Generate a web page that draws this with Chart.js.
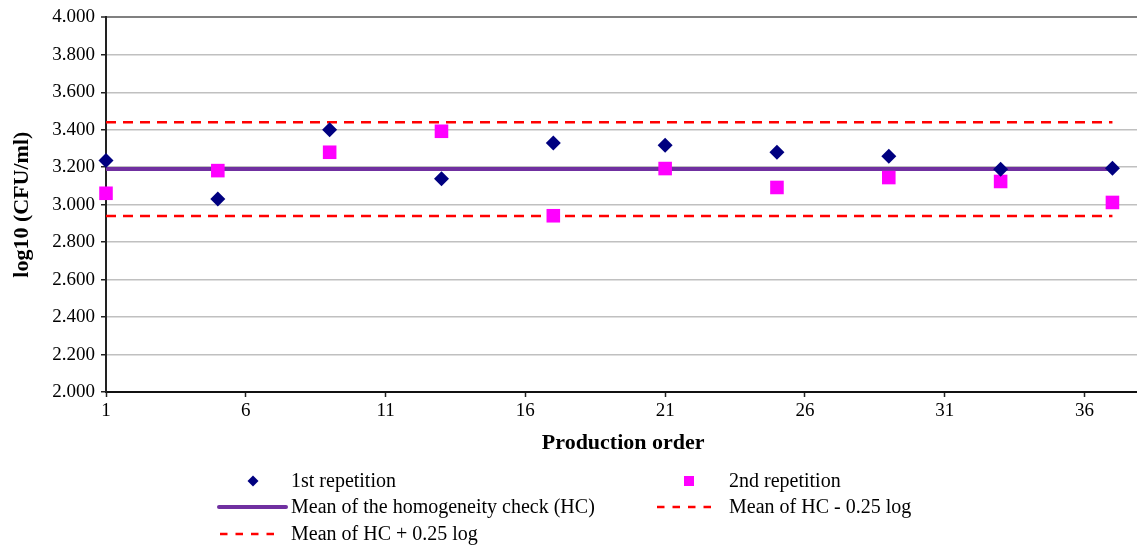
<!DOCTYPE html>
<html lang="en">
<head>
    <meta charset="UTF-8">
    <title>Homogeneity check</title>
    <script src="https://cdn.jsdelivr.net/npm/chart.js"></script>
    <style>
        html, body { margin: 0; padding: 0; background: #fff; overflow: hidden; }
        #wrap { position: relative; width: 1150px; height: 547px; }
    </style>
</head>
<body>
    <div id="wrap"><canvas id="hcChart"></canvas></div>

    <script>
        // production order of the sampled units
        const productionOrder = [1, 5, 9, 13, 17, 21, 25, 29, 33, 37];
        // log10 (CFU/ml)
        const firstRepetition = [3.236, 3.031, 3.400, 3.138, 3.330, 3.317, 3.280, 3.259, 3.189, 3.195];
        const secondRepetition = [3.061, 3.182, 3.280, 3.392, 2.941, 3.193, 3.092, 3.145, 3.124, 3.012];
        // reference lines, drawn from first to last unit
        const lineX = [1, 37];
        const hcMean = [3.19, 3.19];
        const hcMinus = [2.94, 2.94];
        const hcPlus = [3.44, 3.44];
        // axis ticks
        const xTicks = [1, 6, 11, 16, 21, 26, 31, 36];
        const yMin = 2.0, yMax = 4.0, yStep = 0.2;

        const serif = '"Liberation Serif", "Times New Roman", serif';
        const pts = (xs, ys) => xs.map((x, i) => ({ x: x, y: ys[i] }));

        const datasets = [
            {
                label: '1st repetition',
                data: pts(productionOrder, firstRepetition),
                showLine: false,
                pointStyle: 'rectRot',
                pointRadius: 7.5,
                pointBackgroundColor: '#000080',
                pointBorderColor: '#000080',
                pointBorderWidth: 0,
                clip: false
            },
            {
                label: '2nd repetition',
                data: pts(productionOrder, secondRepetition),
                showLine: false,
                pointStyle: 'rect',
                pointRadius: 9.6,
                pointBackgroundColor: '#ff00ff',
                pointBorderColor: '#ff00ff',
                pointBorderWidth: 0,
                clip: false
            },
            {
                label: 'Mean of the homogeneity check (HC)',
                data: pts(lineX, hcMean),
                showLine: true,
                borderColor: '#7030a0',
                borderWidth: 4,
                pointRadius: 0
            },
            {
                label: 'Mean of HC - 0.25 log',
                data: pts(lineX, hcMinus),
                showLine: true,
                borderColor: '#ff0000',
                borderWidth: 2.5,
                borderDash: [10, 7],
                pointRadius: 0
            },
            {
                label: 'Mean of HC + 0.25 log',
                data: pts(lineX, hcPlus),
                showLine: true,
                borderColor: '#ff0000',
                borderWidth: 2.5,
                borderDash: [10, 7],
                pointRadius: 0
            }
        ];

        // legend laid out like the original: two columns, three rows
        const legendSpots = [
            { x: 253, tx: 291, y: 481 },
            { x: 689, tx: 729, y: 481 },
            { x1: 219, x2: 286, tx: 291, y: 507 },
            { x1: 657, x2: 717, tx: 729, y: 507 },
            { x1: 220, x2: 282, tx: 291, y: 534 }
        ];

        const legendPlugin = {
            id: 'sideLegend',
            afterDraw(chart) {
                const ctx = chart.ctx;
                ctx.save();
                chart.data.datasets.forEach((ds, i) => {
                    const p = legendSpots[i];
                    if (!p) return;
                    if (ds.showLine) {
                        ctx.beginPath();
                        ctx.strokeStyle = ds.borderColor;
                        ctx.lineWidth = ds.borderWidth;
                        ctx.lineCap = ds.borderDash ? 'butt' : 'round';
                        ctx.setLineDash(ds.borderDash ? [7.5, 8] : []);
                        ctx.moveTo(p.x1, p.y);
                        ctx.lineTo(p.x2, p.y);
                        ctx.stroke();
                        ctx.setLineDash([]);
                    } else {
                        ctx.fillStyle = ds.pointBackgroundColor;
                        ctx.beginPath();
                        if (ds.pointStyle === 'rectRot') {
                            const r = 5.5;
                            ctx.moveTo(p.x, p.y - r);
                            ctx.lineTo(p.x + r, p.y);
                            ctx.lineTo(p.x, p.y + r);
                            ctx.lineTo(p.x - r, p.y);
                            ctx.closePath();
                        } else {
                            ctx.rect(p.x - 5, p.y - 5, 10, 10);
                        }
                        ctx.fill();
                    }
                    ctx.fillStyle = '#000';
                    ctx.font = '20px ' + serif;
                    ctx.textAlign = 'left';
                    ctx.textBaseline = 'middle';
                    ctx.fillText(ds.label, p.tx, p.y + 1);
                });
                ctx.restore();
            }
        };

        new Chart(document.getElementById('hcChart'), {
            type: 'scatter',
            data: { datasets: datasets },
            plugins: [legendPlugin],
            options: {
                responsive: true,
                maintainAspectRatio: false,
                animation: false,
                layout: { padding: { top: 17, left: 0, right: 8, bottom: 85 } },
                plugins: {
                    legend: { display: false },
                    tooltip: { enabled: false }
                },
                scales: {
                    x: {
                        type: 'linear',
                        min: 1,
                        max: 38,
                        afterBuildTicks: (scale) => { scale.ticks = xTicks.map(v => ({ value: v })); },
                        afterFit: (scale) => { scale.height = 70; },
                        grid: {
                            drawOnChartArea: false,
                            drawTicks: true,
                            tickLength: 5,
                            tickColor: '#222',
                            tickWidth: 1.5
                        },
                        border: { color: '#111', width: 2 },
                        ticks: {
                            color: '#000',
                            padding: 3,
                            maxRotation: 0,
                            autoSkip: false,
                            font: { family: serif, size: 19 }
                        },
                        title: {
                            display: true,
                            text: 'Production order',
                            color: '#000',
                            padding: { top: 0, bottom: 5 },
                            font: { family: serif, size: 22, weight: 'bold' }
                        }
                    },
                    y: {
                        min: yMin,
                        max: yMax,
                        afterFit: (scale) => { scale.width = 106; },
                        grid: {
                            color: (c) => (c.tick && c.tick.value >= yMax - 1e-9) ? '#808080' : '#c0c0c0',
                            lineWidth: (c) => (c.tick && c.tick.value >= yMax - 1e-9) ? 2 : 1.5,
                            drawTicks: true,
                            tickLength: 5,
                            tickColor: '#222',
                            tickWidth: 1.5
                        },
                        border: { color: '#222', width: 2 },
                        ticks: {
                            stepSize: yStep,
                            color: '#000',
                            padding: 6,
                            font: { family: serif, size: 19 },
                            callback: (v) => v.toFixed(3)
                        },
                        title: {
                            display: true,
                            text: 'log10 (CFU/ml)',
                            color: '#000',
                            padding: { top: 9, bottom: 0 },
                            font: { family: serif, size: 22, weight: 'bold' }
                        }
                    }
                }
            }
        });
    </script>
</body>
</html>
